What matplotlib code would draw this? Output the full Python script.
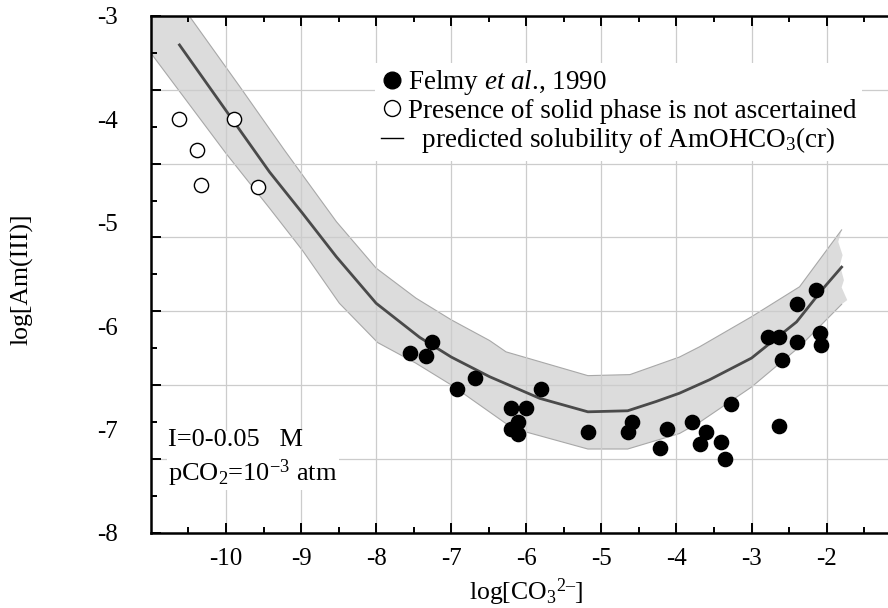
import numpy as np
import matplotlib
matplotlib.use("Agg")
import matplotlib.pyplot as plt
from matplotlib.lines import Line2D

plt.rcParams['font.family'] = 'Liberation Serif'
plt.rcParams['mathtext.fontset'] = 'custom'
plt.rcParams['mathtext.rm'] = 'Liberation Serif'
plt.rcParams['mathtext.it'] = 'Liberation Serif:italic'
plt.rcParams['axes.unicode_minus'] = False

# Felmy et al., 1990 (filled)
felmy_x = [-7.55, -7.34, -7.25, -6.93, -6.69, -6.21, -6.01, -6.11, -6.21, -6.11,
           -5.80, -5.18, -4.59, -4.65, -4.12, -4.22, -3.79, -3.61, -3.68, -3.41,
           -3.35, -3.28, -2.64, -2.78, -2.64, -2.40, -2.60, -2.40, -2.14, -2.09, -2.07]
felmy_y = [-6.26, -6.29, -6.15, -6.61, -6.50, -6.79, -6.79, -6.93, -7.00, -7.04,
           -6.61, -7.03, -6.93, -7.03, -7.00, -7.18, -6.93, -7.03, -7.14, -7.12,
           -7.29, -6.75, -6.97, -6.11, -6.11, -6.15, -6.33, -5.79, -5.65, -6.07, -6.18]

# solid phase not ascertained (open)
open_x = [-10.62, -10.39, -10.33, -9.90, -9.57]
open_y = [-4.00, -4.30, -4.64, -4.00, -4.65]

# predicted solubility of AmOHCO3(cr)
pred_x = [-10.62, -9.42, -8.98, -8.53, -8.00, -7.42, -7.00, -6.49, -5.82, -5.18,
          -4.65, -4.27, -3.96, -3.56, -3.00, -2.40, -2.05, -1.80]
pred_y = [-3.28, -4.51, -4.91, -5.33, -5.78, -6.11, -6.30, -6.49, -6.70, -6.83,
          -6.82, -6.73, -6.65, -6.52, -6.31, -5.96, -5.64, -5.43]

# uncertainty band
upper_x = [-10.89, -10.47, -9.82, -9.22, -8.53, -8.00, -7.47, -7.00, -6.49, -6.27,
           -5.18, -4.62, -3.96, -3.69, -3.00, -2.36, -1.80]
upper_y = [-2.59, -3.02, -3.68, -4.30, -4.99, -5.44, -5.73, -5.94, -6.14, -6.25,
           -6.48, -6.47, -6.30, -6.20, -5.91, -5.62, -5.07]
edge_x = [-1.845, -1.787, -1.823, -1.769, -1.80, -1.725]
edge_y = [-5.185, -5.314, -5.410, -5.556, -5.626, -5.749]
lower_x = [-11.56, -11.00, -10.00, -9.42, -8.98, -8.49, -7.98, -7.47, -7.00, -6.18,
           -5.18, -4.65, -3.96, -3.69, -3.00, -2.36, -1.80]
lower_y = [-2.82, -3.36, -4.33, -4.86, -5.27, -5.78, -6.16, -6.36, -6.57, -6.99,
           -7.19, -7.19, -7.04, -6.93, -6.59, -6.20, -5.79]

fig = plt.figure(figsize=(8.88, 6.08), dpi=100)
ax = fig.add_axes([0.170, 0.1238, 0.8454, 0.8499])

# band
poly_x = upper_x + edge_x + lower_x[::-1]
poly_y = upper_y + edge_y + lower_y[::-1]
ax.fill(poly_x, poly_y, color='#dcdcdc', lw=0, zorder=0.3)
ax.plot(upper_x, upper_y, color='#a8a8a8', lw=0.8, zorder=0.35)
ax.plot(lower_x, lower_y, color='#a8a8a8', lw=0.8, zorder=0.35)

ax.plot(pred_x, pred_y, color='#4a4a4a', lw=2.0, zorder=2)
ax.scatter(felmy_x, felmy_y, s=105, color='black', zorder=3)
ax.scatter(open_x, open_y, s=105, facecolor='white', edgecolor='black', lw=1.0, zorder=3)

ax.set_xlim(-11, -1)
ax.set_ylim(-8, -3)

# ticks / grid
ax.set_xticks(np.arange(-10, -1.5, 1))
ax.set_xticks(np.arange(-10.5, -1, 0.5), minor=True)
ax.set_yticks(np.linspace(-8, -3, 8))
ax.set_yticks(np.linspace(-8, -3, 15), minor=True)
ax.set_yticklabels([])
ax.tick_params(which='major', direction='in', length=7.5, width=1.4, top=True,
               labelsize=18, pad=11)
ax.tick_params(which='minor', direction='in', length=4.3, width=1.4, top=True)
ax.tick_params(axis='x', which='both', top=True)
ax.grid(True, which='major', color='#cccccc', lw=0.9)
ax.set_axisbelow(True)
for sp in ['left', 'bottom', 'top']:
    ax.spines[sp].set_linewidth(1.8)
ax.spines['right'].set_visible(False)

sec = ax.secondary_yaxis('left')
sec.set_yticks(np.arange(-8, -2, 1))
sec.tick_params(length=0, pad=24, labelsize=18)
sec.spines['left'].set_visible(False)

ax.set_xlabel('log[CO$_3$$^{2\u2013}$]', fontsize=18.5)
ax.xaxis.set_label_coords(0.5, -0.085)
ax.set_ylabel('log[Am(III)]', fontsize=18.5)
ax.yaxis.set_label_coords(-0.156, 0.49)

handles = [
    Line2D([], [], ls='none', marker='o', ms=12, color='black'),
    Line2D([], [], ls='none', marker='o', ms=11.5, mfc='white', mec='black', mew=1.0),
    Line2D([], [], color='black', lw=1.0),
]
labels = ['Felmy $\\mathit{et\\ al}$., 1990',
          'Presence of solid phase is not ascertained',
          '  predicted solubility of AmOHCO$_3$(cr)']
leg = ax.legend(handles, labels, loc='upper left', bbox_to_anchor=(0.299, 0.909),
                borderaxespad=0, borderpad=0.2, fontsize=19.5, handlelength=0.8,
                handletextpad=0.2, labelspacing=0.05, frameon=True,
                fancybox=False, framealpha=1, facecolor='white', edgecolor='none')

ax.text(0.0226, 0.143, 'I=0-0.05   M\npCO$_2$=10$^{-3}$ atm', transform=ax.transAxes,
        fontsize=19, va='center', ha='left', linespacing=1.25,
        bbox=dict(facecolor='white', edgecolor='none', pad=1))

fig.savefig('out.png', dpi=100)
